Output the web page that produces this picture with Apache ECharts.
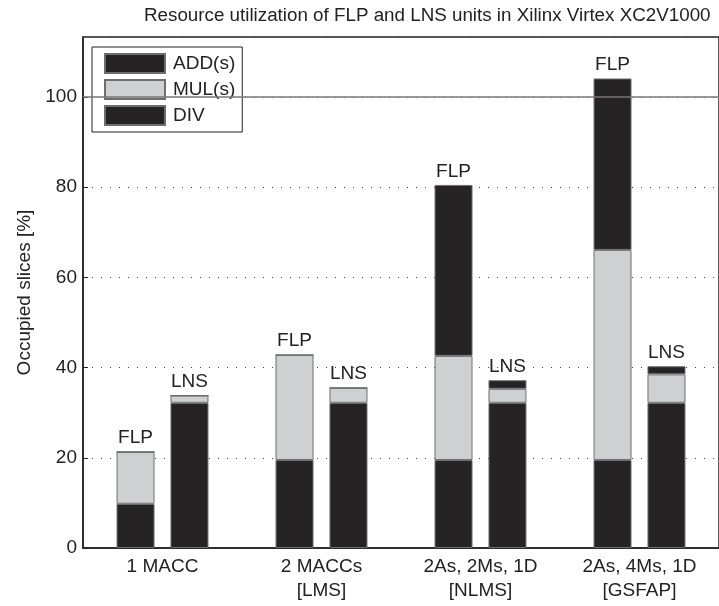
<!DOCTYPE html>
<html>
<head>
<meta charset="utf-8">
<script src="https://cdn.jsdelivr.net/npm/echarts@6/dist/echarts.min.js"></script>
<style>html,body{margin:0;padding:0;background:#fff}#c{width:719px;height:606px}</style>
</head>
<body>
<div id="c"></div>
<script>
const categories = ['1 MACC', '2 MACCs\n[LMS]', '2As, 2Ms, 1D\n[NLMS]', '2As, 4Ms, 1D\n[GSFAP]'];
const flpAdd = [9.8, 19.5, 19.5, 19.5];
const flpMul = [11.5, 23.3, 23.1, 46.6];
const flpDiv = [0, 0, 37.9, 38.0];
const lnsAdd = [32.2, 32.2, 32.2, 32.2];
const lnsMul = [1.6, 3.3, 3.1, 6.3];
const lnsDiv = [0, 0, 1.9, 1.8];
const yTicks = [0, 20, 40, 60, 80, 100];
const refLine = 100;

const FONT = 'Liberation Sans, Arial, Helvetica, sans-serif';
const FS = 19;
const dark = '#262324', light = '#cfd0d2', border = '#6e6e6e';
function bar(name, stack, data, color, labelText) {
  const s = {
    name, type: 'bar', stack, data, barWidth: 38, barGap: '42%', z: 3,
    itemStyle: { color, borderColor: border, borderWidth: 1 },
    emphasis: { disabled: true }
  };
  if (labelText) {
    s.label = { show: true, position: 'top', distance: 4, formatter: labelText,
      fontFamily: FONT, fontSize: FS, color: '#222' };
  }
  return s;
}
const chart = echarts.init(document.getElementById('c'), null, { renderer: 'canvas' });
chart.setOption({
  animation: false,
  backgroundColor: '#fff',
  textStyle: { fontFamily: FONT },
  title: { text: 'Resource utilization of FLP and LNS units in Xilinx Virtex XC2V1000',
    left: 139, top: 1, textStyle: { fontFamily: FONT, fontSize: 18.8, fontWeight: 'normal', color: '#222' } },
  grid: { left: 83, top: 37, width: 647, height: 511, show: true, borderColor: '#222', borderWidth: 1.5, backgroundColor: 'transparent' },
  legend: {
    data: ['ADD(s)', 'MUL(s)', 'DIV'], orient: 'vertical', left: 92, top: 47,
    itemWidth: 60, itemHeight: 19, itemGap: 5, icon: 'rect',
    padding: [6, 7, 6, 12], borderColor: '#222', borderWidth: 1, backgroundColor: '#fff',
    textStyle: { fontFamily: FONT, fontSize: FS, color: '#222', padding: [0, 0, 0, 3] }, selectedMode: false
  },
  xAxis: {
    type: 'category', data: categories,
    axisLine: { lineStyle: { color: '#222', width: 1.5 } },
    axisTick: { show: false },
    axisLabel: { fontFamily: FONT, fontSize: FS, color: '#222', lineHeight: 24, margin: 7 }
  },
  yAxis: {
    type: 'value', min: 0, max: 113.3, interval: 20,
    name: 'Occupied slices [%]', nameLocation: 'middle', nameGap: 46,
    nameTextStyle: { fontFamily: FONT, fontSize: FS, color: '#222' },
    axisLine: { show: true, lineStyle: { color: '#222', width: 1.5 } },
    axisTick: { show: true, inside: true, length: 5, lineStyle: { color: '#222' } },
    axisLabel: { fontFamily: FONT, fontSize: FS, color: '#222', margin: 6, showMaxLabel: false,
      formatter: v => yTicks.includes(v) ? String(v) : '' },
    splitLine: { show: true, lineStyle: { color: '#444', type: [1, 8], width: 1 } }
  },
  series: [
    { name: 'ref', type: 'line', data: [], z: 1, silent: true,
      markLine: { silent: true, symbol: 'none', label: { show: false },
        lineStyle: { color: '#777', type: 'solid', width: 1.5 }, data: [{ yAxis: refLine }] } },
    bar('ADD(s)', 'flp', flpAdd, dark),
    bar('MUL(s)', 'flp', flpMul, light),
    bar('DIV', 'flp', flpDiv, dark, 'FLP'),
    bar('ADD(s)', 'lns', lnsAdd, dark),
    bar('MUL(s)', 'lns', lnsMul, light),
    bar('DIV', 'lns', lnsDiv, dark, 'LNS')
  ]
});
</script>
</body>
</html>
